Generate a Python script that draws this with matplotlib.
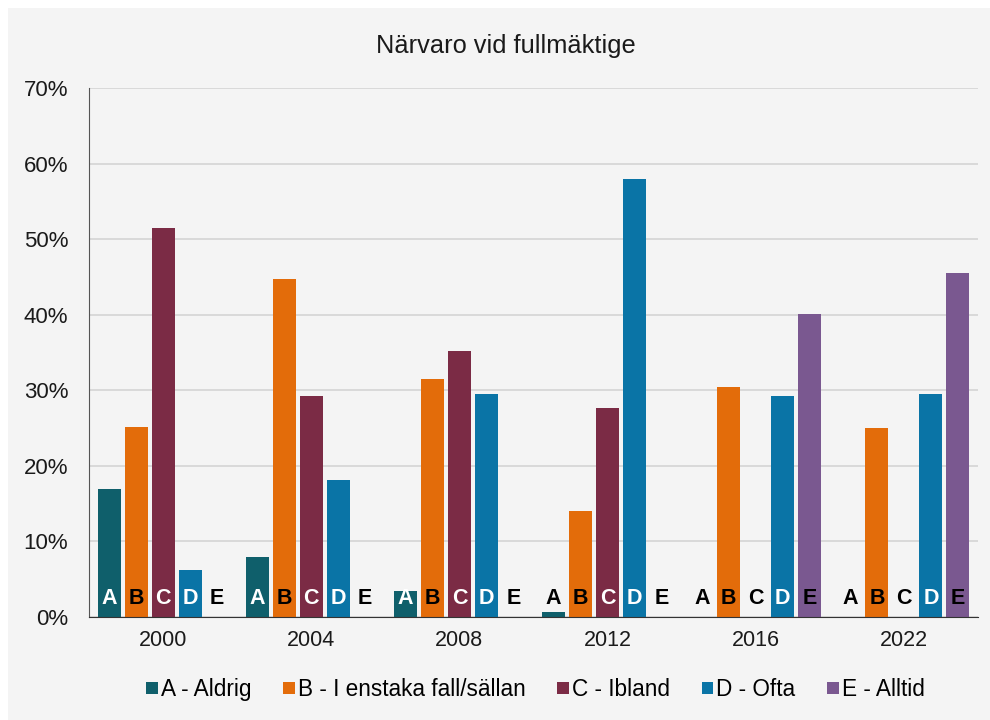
import numpy as np
import matplotlib
matplotlib.use("Agg")
import matplotlib.pyplot as plt
from matplotlib.patches import Rectangle
from matplotlib.ticker import PercentFormatter

plt.rcParams["font.family"] = ["Liberation Sans", "DejaVu Sans"]

years = ["2000", "2004", "2008", "2012", "2016", "2022"]
letters = ["A", "B", "C", "D", "E"]
labels = ["A - Aldrig", "B - I enstaka fall/sällan", "C - Ibland", "D - Ofta", "E - Alltid"]
aldrig = [17.0, 8.0, 3.5, 0.6, 0.0, 0.0]
sallan = [25.2, 44.7, 31.5, 14.0, 30.4, 25.0]
ibland = [51.5, 29.2, 35.2, 27.6, 0.0, 0.0]
ofta = [6.2, 18.1, 29.5, 58.0, 29.3, 29.5]
alltid = [0.0, 0.0, 0.0, 0.0, 40.1, 45.5]
colors = ["#0f5f6b", "#e36c0a", "#7b2b45", "#0a74a6", "#7a5890"]

series = [aldrig, sallan, ibland, ofta, alltid]
bg = "#f4f4f4"

fig = plt.figure(figsize=(9.9, 7.2), dpi=100, facecolor="white")
fig.patches.append(Rectangle((8 / 990, 0), 1, 1 - 8 / 720, transform=fig.transFigure,
                             facecolor=bg, edgecolor="none", zorder=-10))
ax = fig.add_axes([89 / 990, 103 / 720, 889 / 990, 529 / 720])
ax.set_facecolor("none")

x = np.arange(len(years))
step = 0.182
width = 0.155
for i, (vals, col, lab, let) in enumerate(zip(series, colors, labels, letters)):
    pos = x + (i - 2) * step
    ax.bar(pos, vals, width=width, color=col, label=lab, zorder=3)
    for p, v in zip(pos, vals):
        tc = "white" if (let in "ACD" and v > 2) else "black"
        ax.text(p, 2.5, let, ha="center", va="center", fontsize=15.5,
                fontweight="bold", color=tc, zorder=4)

ax.set_xlim(-0.5, len(years) - 0.5)
ax.set_ylim(0, 70)
ax.set_yticks(range(0, 71, 10))
ax.yaxis.set_major_formatter(PercentFormatter(decimals=0))
ax.set_xticks(x)
ax.set_xticklabels(years)
ax.tick_params(axis="y", length=0, pad=15, labelsize=16, colors="#1a1a1a")
ax.tick_params(axis="x", length=0, pad=9, labelsize=15.5, colors="#1a1a1a")
ax.grid(axis="y", color="#d4d4d4", linewidth=1.2, zorder=0)
ax.spines["top"].set_visible(False)
ax.spines["right"].set_visible(False)
ax.spines["left"].set_color("#555555")
ax.spines["bottom"].set_color("#333333")
ax.spines["bottom"].set_zorder(5)

fig.text(0.511, 0.936, "Närvaro vid fullmäktige", ha="center", va="center",
         fontsize=18.3, color="#1a1a1a")

fig.legend(loc="center", bbox_to_anchor=(0.541, 0.042), ncol=5, frameon=False,
           fontsize=16.3, handlelength=0.5, handleheight=0.45,
           handletextpad=0.15, columnspacing=1.4)

fig.savefig("out.png", dpi=100, facecolor=fig.get_facecolor())
